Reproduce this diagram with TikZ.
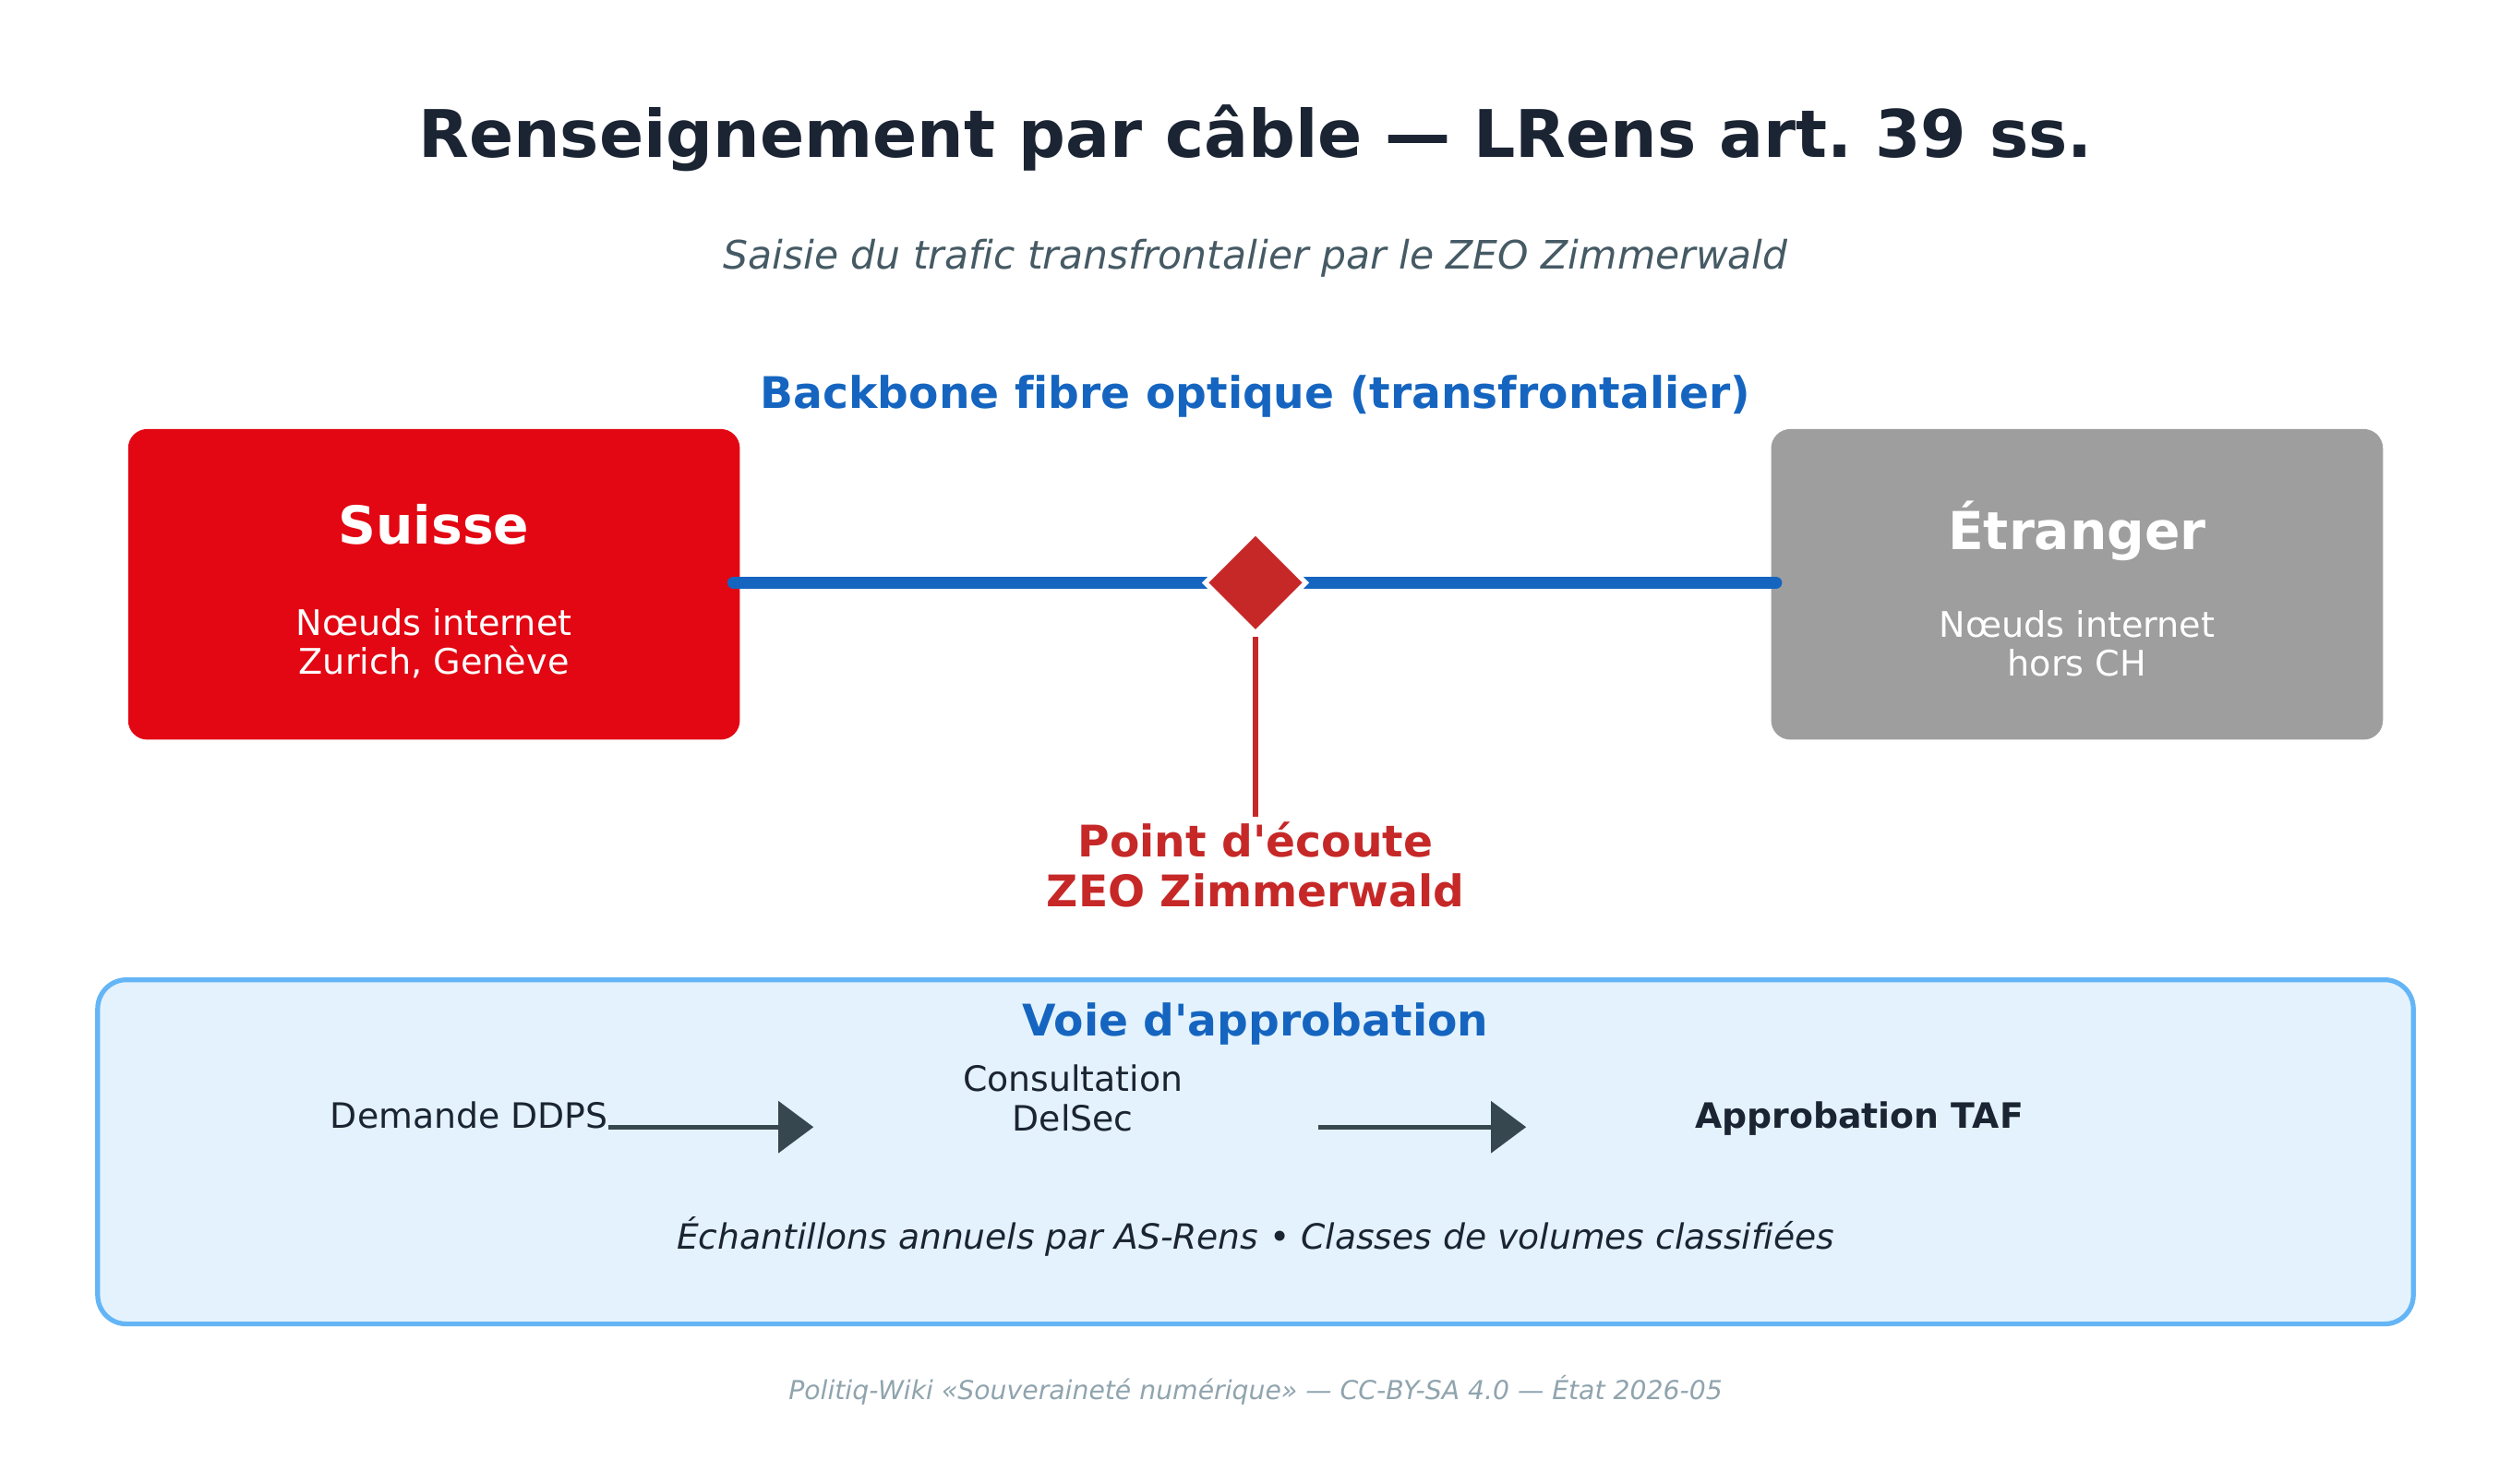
\documentclass[tikz,border=0pt]{standalone}
\usepackage{fontspec}
\setmainfont{DejaVu Sans}[Ligatures={TeXOff,NoCommon}]
\usetikzlibrary{shapes.geometric,arrows.meta}
\frenchspacing
\definecolor{titlec}{HTML}{1B2433}
\definecolor{subc}{HTML}{455A64}
\definecolor{bluec}{HTML}{1565C0}
\definecolor{swissred}{HTML}{E30613}
\definecolor{greyc}{HTML}{9E9E9E}
\definecolor{tapred}{HTML}{C62828}
\definecolor{panelfill}{HTML}{E3F2FD}
\definecolor{paneldraw}{HTML}{64B5F6}
\definecolor{arrc}{HTML}{37474F}
\definecolor{footc}{HTML}{90A4AE}
\newcommand{\fs}[2]{\fontsize{#1}{#2}\selectfont}
\tikzset{
  txt/.style={inner sep=0pt, outer sep=0pt, align=center},
  country/.style={rounded corners=12pt, minimum width=382pt, minimum height=194pt, inner sep=0pt},
  flowarr/.style={draw=arrc, line width=3pt, -{Triangle[length=22pt,width=32pt]}},
}
\begin{document}
\begin{tikzpicture}[x=1pt,y=-1pt]
\useasboundingbox[fill=white] (0,0) rectangle (1568,926.4);
% title
\node[txt, anchor=base, text=titlec, font=\fs{41}{48}\bfseries\frenchspacing] (title) at (784,98) {Renseignement par câble — LRens art. 39 ss.};
\node[txt, anchor=base, text=subc, font=\fs{24.5}{29}\itshape] (subtitle) at (784,168) {Saisie du trafic transfrontalier par le ZEO Zimmerwald};
\node[txt, anchor=base, text=bluec, font=\fs{27.2}{32}\bfseries] (backlabel) at (784,255) {Backbone fibre optique (transfrontalier)};
% country boxes
\node[country, fill=swissred] (ch) at (271,365) {};
\node[country, fill=greyc] (ext) at (1297,365) {};
\node[txt, anchor=base, text=white, font=\fs{32.7}{39}\bfseries] (chname) at (271,340) {Suisse};
\node[txt, text=white, font=\fs{22}{24}] (chsub) at (271,402) {Nœuds internet\\Zurich, Genève};
\node[txt, anchor=base, text=white, font=\fs{32.7}{39}\bfseries] (extname) at (1297,343) {Étranger};
\node[txt, text=white, font=\fs{22}{24}] (extsub) at (1297,402) {Nœuds internet\\hors CH};
% backbone
\draw[bluec, line width=8pt, line cap=round] ([xshift=-4pt]ch.east |- 0,364) -- ([xshift=3pt]ext.west |- 0,364);
\node[diamond, fill=tapred, draw=white, line width=3pt, minimum width=64pt, minimum height=64pt, inner sep=0pt, aspect=1] (tap) at (784,364) {};
\node[txt, text=tapred, font=\fs{27.2}{31}\bfseries] (taplabel) at (784,540) {Point d'écoute\\ZEO Zimmerwald};
\coordinate (tapend) at (784,510);
\draw[tapred, line width=3pt] (tap.south) -- (tapend);
% approval panel
\node[draw=paneldraw, fill=panelfill, line width=3pt, rounded corners=18pt, minimum width=1446pt, minimum height=215pt, inner sep=0pt] (panel) at (784,719.5) {};
\node[txt, anchor=base, text=bluec, font=\fs{27.2}{32}\bfseries] (voie) at (784,647) {Voie d'approbation};
\node[txt, anchor=base, text=titlec, font=\fs{21.8}{26}] (ddps) at (293,705) {Demande DDPS};
\node[txt, text=titlec, font=\fs{21.8}{25}] (delsec) at (670,686) {Consultation\\DelSec};
\node[txt, anchor=base, text=titlec, font=\fs{21.8}{26}\bfseries] (taf) at (1161,705) {Approbation TAF};
\coordinate (a1e) at (508,704);
\coordinate (a2s) at (823,704);
\coordinate (a2e) at (953,704);
\draw[flowarr] (ddps.east |- a1e) -- (a1e);
\draw[flowarr] (a2s) -- (a2e);
\node[txt, anchor=base, text=titlec, font=\fs{21.7}{26}\itshape] (note) at (784,780) {Échantillons annuels par AS-Rens • Classes de volumes classifiées};
\node[txt, anchor=base, text=footc, font=\fs{16.3}{19}\itshape] (foot) at (784,874) {Politiq-Wiki «Souveraineté numérique» — CC-BY-SA 4.0 — État 2026-05};
\end{tikzpicture}
\end{document}
